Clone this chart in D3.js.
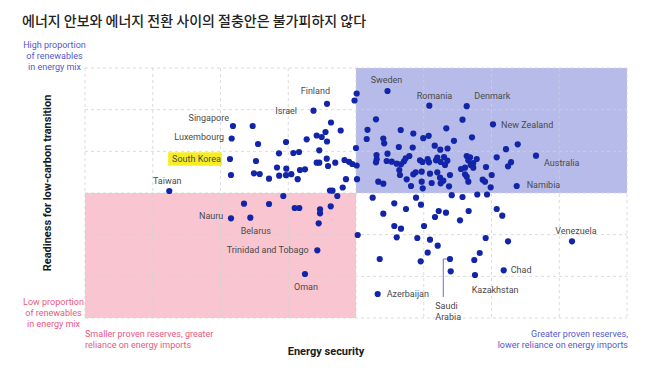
<!DOCTYPE html>
<html><head><meta charset="utf-8">
<script src="https://cdn.jsdelivr.net/npm/d3@7"></script>
<style>
html,body{margin:0;padding:0;background:#fff;}
svg{display:block;}
</style></head>
<body>
<svg id="chart" width="647" height="385"></svg>
<script>
// ---------- DATA ----------
const title = "에너지 안보와 에너지 전환 사이의 절충안은 불가피하지 않다";
const xTitle = "Energy security";
const yTitle = "Readiness for low-carbon transition";
const cornerTopLeft = ["High proportion", "of renewables", "in energy mix"];
const cornerBottomLeft = ["Low proportion", "of renewables", "in energy mix"];
const xLowNote = ["Smaller proven reserves, greater", "reliance on energy imports"];
const xHighNote = ["Greater proven reserves,", "lower reliance on energy imports"];

const xDomain = [0, 8];
const yDomain = [0, 6];
const xSplit = 4;
const ySplit = 3;

// labelled countries
const labelNames = ["Finland","Israel","Singapore","Luxembourg","South Korea","Taiwan","Sweden","Romania","Denmark","New Zealand","Australia","Namibia","Nauru","Belarus","Trinidad and Tobago","Oman","Venezuela","Chad","Kazakhstan","Azerbaijan","Saudi Arabia"];
const labelX = [3.572,3.373,2.184,2.165,2.140,1.244,4.465,5.082,5.634,6.022,6.657,6.372,2.155,2.440,3.429,3.247,7.188,6.180,5.756,4.320,5.387];
const labelY = [5.141,4.975,4.608,4.308,3.816,3.048,5.448,5.095,5.083,4.649,3.895,3.168,2.393,2.407,1.625,1.056,1.841,1.145,1.032,0.576,1.416];

// unlabelled countries
const otherX = [2.475,2.554,2.967,3.272,3.420,3.494,3.550,3.572,3.631,3.774,4.010,3.978,4.000,2.524,2.863,3.075,3.159,3.458,3.420,3.458,3.568,3.587,3.694,3.830,3.897,3.945,4.010,2.155,2.494,2.579,2.716,2.834,2.866,2.971,2.967,3.045,3.139,3.173,3.247,3.852,4.015,3.804,3.616,3.653,2.927,3.724,2.347,2.716,3.095,3.163,3.469,3.469,3.627,3.449,4.025,
 5.572,4.295,4.170,4.660,4.846,5.333,4.158,4.403,4.416,4.993,5.073,5.446,5.712,4.632,4.837,5.162,5.244,5.351,6.387,6.214,6.077,6.288,6.244,4.303,4.306,4.295,4.465,4.453,4.527,4.601,4.664,4.708,4.787,4.734,4.639,4.649,4.846,4.881,4.970,4.945,4.982,5.058,5.077,5.181,5.200,5.250,5.299,5.314,5.348,5.092,5.200,5.240,5.289,5.387,4.329,4.403,4.748,4.812,4.970,4.985,5.117,5.250,5.373,5.634,5.683,5.658,5.782,5.731,5.693,5.609,5.550,5.731,5.919,6.003,5.609,5.634,5.870,5.904,5.658,5.988,
 4.246,4.886,5.413,5.572,5.790,5.934,4.565,4.959,4.738,4.403,5.221,5.328,5.663,5.166,6.077,6.159,5.535,4.565,4.664,5.004,4.601,4.905,5.092,5.206,5.914,6.244,5.058,4.350,4.955,5.746,5.826,5.398];
const otherY = [4.608,4.176,4.224,4.289,4.380,4.344,4.464,4.236,4.692,4.500,5.388,5.220,4.080,3.768,3.953,3.960,3.984,4.025,3.727,3.727,3.823,3.648,3.727,3.792,3.749,3.696,3.660,3.432,3.473,3.456,3.343,3.612,3.415,3.583,3.427,3.451,3.331,3.552,3.569,3.331,3.331,3.132,3.060,3.055,2.928,2.928,2.743,2.736,2.640,2.640,2.609,2.513,2.681,2.273,1.992,
 4.759,4.769,4.517,4.512,4.428,4.553,4.296,4.308,4.193,4.315,4.373,4.253,4.337,4.104,4.092,4.135,4.039,4.068,4.169,4.051,3.857,3.739,3.641,3.912,3.809,3.737,3.943,3.768,3.751,3.703,3.689,3.761,3.888,3.833,3.552,3.432,3.449,3.497,3.511,3.785,3.744,3.816,3.737,3.785,3.847,3.744,3.864,3.672,3.775,3.463,3.497,3.367,3.295,3.432,3.271,3.223,3.329,3.168,3.271,3.113,3.240,3.233,3.161,3.888,3.857,3.785,3.816,3.720,3.672,3.607,3.576,3.607,3.624,3.432,3.449,3.391,3.319,3.271,3.271,3.137,
 2.887,2.887,2.947,2.904,2.964,2.964,2.753,2.719,2.616,2.503,2.568,2.527,2.568,2.424,2.616,2.455,2.345,2.208,2.143,2.208,1.937,1.920,1.879,1.735,1.920,1.841,1.567,1.416,1.361,1.392,1.560,1.121];

// ---------- LAYOUT / STYLE ----------
const W = 647, H = 385;
const plot = {left: 85, right: 627, top: 68, bottom: 318};
const colors = {
  dot: "#1224a8", blueZone: "#b7bbe9", pinkZone: "#f9c5d0",
  grid: "#d2d2d2", label: "#4a4a4a", blueText: "#5559cc", pinkText: "#e8587e",
  highlight: "#f6ee22", leader: "#6b70c4", title: "#222222"
};
// label placement: [anchor, dx, dy]
const labelLayout = {
  "Finland": ["end", 3, -13], "Israel": ["end", -16.5, 0], "Singapore": ["end", -4, -8.3],
  "Luxembourg": ["end", -7.5, -2], "South Korea": ["end", -9, 0], "Taiwan": ["middle", -2, -10],
  "Sweden": ["middle", -1, -11], "Romania": ["start", -12.6, -9.7], "Denmark": ["start", 7.6, -10.2],
  "New Zealand": ["start", 8, 0.7], "Australia": ["start", 8, 7], "Namibia": ["start", 10, -1],
  "Nauru": ["end", -7.7, -2.3], "Belarus": ["start", -9.6, 13.3], "Trinidad and Tobago": ["end", -8.6, 0],
  "Oman": ["middle", 1, 13], "Venezuela": ["middle", 4, -10.3], "Chad": ["start", 7, 0],
  "Kazakhstan": ["start", -3.3, 15], "Azerbaijan": ["start", 9, 0]
};

const svg = d3.select("#chart");
const x = d3.scaleLinear().domain(xDomain).range([plot.left, plot.right]);
const y = d3.scaleLinear().domain(yDomain).range([plot.bottom, plot.top]);

// title
svg.append("text").attr("x", 22).attr("y", 26)
  .attr("font-family", "'Noto Sans CJK KR', 'Noto Sans', sans-serif")
  .attr("font-size", 14).attr("font-weight", 500).attr("fill", colors.title)
  .text(title);

// zones
svg.append("rect").attr("x", x(xSplit)).attr("y", y(yDomain[1]))
  .attr("width", x(xDomain[1]) - x(xSplit)).attr("height", y(ySplit) - y(yDomain[1]))
  .attr("fill", colors.blueZone);
svg.append("rect").attr("x", x(xDomain[0])).attr("y", y(ySplit))
  .attr("width", x(xSplit) - x(xDomain[0])).attr("height", y(yDomain[0]) - y(ySplit))
  .attr("fill", colors.pinkZone);

// grid
const g = svg.append("g").attr("stroke", colors.grid).attr("stroke-dasharray", "3,3").attr("stroke-width", 0.8);
x.ticks(8).forEach(t => g.append("line").attr("x1", x(t)).attr("x2", x(t)).attr("y1", plot.top).attr("y2", plot.bottom));
y.ticks(6).forEach(t => g.append("line").attr("y1", y(t)).attr("y2", y(t)).attr("x1", plot.left).attr("x2", plot.right));

// Saudi leader line
const si = labelNames.indexOf("Saudi Arabia");
const sx = x(labelX[si]), sy = y(labelY[si]);
svg.append("path").attr("d", `M${sx-3},${sy} H${sx-6.7} V${sy+38}`)
  .attr("fill", "none").attr("stroke", colors.leader).attr("stroke-width", 1);

// dots
const allX = otherX.concat(labelX), allY = otherY.concat(labelY);
svg.append("g").selectAll("circle").data(allX).join("circle")
  .attr("cx", d => x(d)).attr("cy", (d, i) => y(allY[i])).attr("r", 3.1)
  .attr("fill", colors.dot);

// labels
const lab = svg.append("g").attr("font-family", "Roboto, 'Liberation Sans', sans-serif")
  .attr("font-size", 9).attr("fill", colors.label);
labelNames.forEach((n, i) => {
  const px = x(labelX[i]), py = y(labelY[i]);
  if (n === "Saudi Arabia") {
    ["Saudi", "Arabia"].forEach((w, k) => lab.append("text").attr("x", px - 14.7).attr("y", py + 47 + k * 10.7)
      .attr("dy", "0.35em").text(w));
    return;
  }
  const [anchor, dx, dy] = labelLayout[n];
  const t = lab.append("text").attr("x", px + dx).attr("y", py + dy).attr("dy", "0.35em")
    .attr("text-anchor", anchor).text(n);
  if (n === "South Korea") {
    const b = t.node().getBBox();
    lab.insert("rect", "text").attr("x", b.x - 4).attr("y", py - 6.7).attr("width", b.width + 4.7).attr("height", 13.4)
      .attr("fill", colors.highlight);
  }
});

// corner notes
const note = svg.append("g").attr("font-family", "Roboto, 'Liberation Sans', sans-serif").attr("font-size", 9);
cornerTopLeft.forEach((s, k) => note.append("text").attr("x", 54.5).attr("y", 45 + k * 11).attr("dy", "0.35em")
  .attr("text-anchor", "middle").attr("fill", colors.blueText).text(s));
cornerBottomLeft.forEach((s, k) => note.append("text").attr("x", 53.5).attr("y", 302 + k * 11).attr("dy", "0.35em")
  .attr("text-anchor", "middle").attr("fill", colors.pinkText).text(s));
xLowNote.forEach((s, k) => note.append("text").attr("x", plot.left).attr("y", 334 + k * 11).attr("dy", "0.35em")
  .attr("fill", colors.pinkText).text(s));
xHighNote.forEach((s, k) => note.append("text").attr("x", plot.right + 1).attr("y", 334 + k * 11).attr("dy", "0.35em")
  .attr("text-anchor", "end").attr("fill", colors.blueText).text(s));

// axis titles
svg.append("text").attr("x", 326).attr("y", 351).attr("dy", "0.35em").attr("text-anchor", "middle")
  .attr("font-family", "Roboto, 'Liberation Sans', sans-serif").attr("font-size", 11).attr("font-weight", 700)
  .attr("fill", "#1a1a1a").text(xTitle);
svg.append("text").attr("transform", "translate(47,183) rotate(-90)").attr("dy", "0.35em").attr("text-anchor", "middle")
  .attr("font-family", "Roboto, 'Liberation Sans', sans-serif").attr("font-size", 11).attr("font-weight", 700)
  .attr("fill", "#1a1a1a").text(yTitle);
</script>
</body></html>
